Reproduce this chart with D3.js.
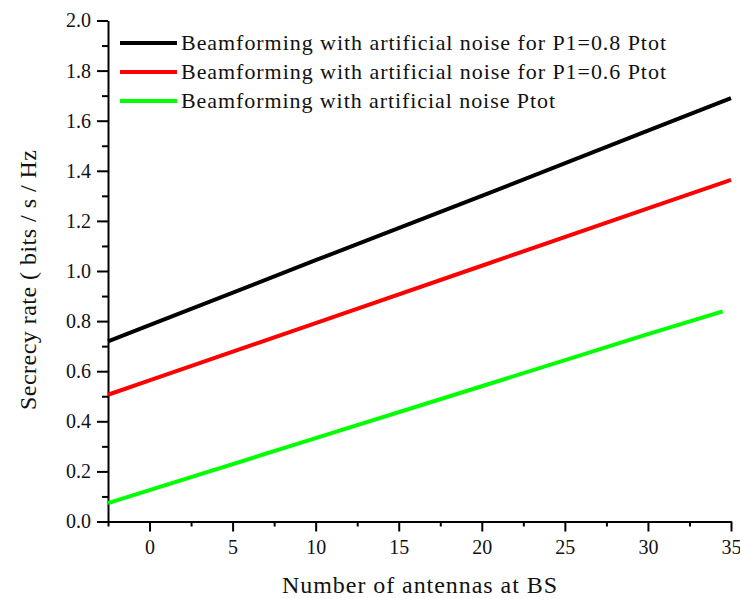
<!DOCTYPE html>
<html>
<head>
<meta charset="utf-8">
<script src="https://cdn.jsdelivr.net/npm/d3@7"></script>
<style>
  body { margin: 0; background: #fff; }
  text { font-family: "Liberation Serif", "Times New Roman", serif; fill: #111; }
</style>
</head>
<body>
<svg id="chart"></svg>
<script>
// values
const antennas = [-2.5, 0, 10, 20, 30, 35];
const greenX = [-2.5, 0, 10, 20, 30, 34.5];
const p08 = [0.719, 0.784, 1.043, 1.30, 1.56, 1.69];
const p06 = [0.506, 0.563, 0.792, 1.021, 1.250, 1.364];
const ptot = [0.073, 0.125, 0.333, 0.540, 0.748, 0.839];
const seriesNames = [
  'Beamforming with artificial noise for P1=0.8 Ptot',
  'Beamforming with artificial noise for P1=0.6 Ptot',
  'Beamforming with artificial noise Ptot'
];
const legendWidths = [485, 485, 374];
const seriesColors = ['#000000', '#ff0000', '#00ff00'];
const xTicks = [0, 5, 10, 15, 20, 25, 30, 35];
const yTicks = [0, 0.2, 0.4, 0.6, 0.8, 1.0, 1.2, 1.4, 1.6, 1.8, 2.0];

const svgWidth = 740, svgHeight = 598;
const margin = { top: 20.5, left: 108, right: 9, bottom: 76.5 };
const width = svgWidth - margin.left - margin.right;
const height = svgHeight - margin.top - margin.bottom;

const svg = d3.select('#chart')
  .attr('width', svgWidth)
  .attr('height', svgHeight);
const g = svg.append('g')
  .attr('transform', 'translate(' + margin.left + ',' + margin.top + ')');

const x = d3.scaleLinear().domain([-2.5, 35]).range([0, width]);
const y = d3.scaleLinear().domain([0, 2]).range([height, 0]);

// minor ticks first (half steps)
const xMinor = d3.range(-2.5, 35.01, 2.5).filter(v => v % 5 !== 0);
const yMinor = d3.range(0.1, 2, 0.2);
g.append('g')
  .attr('transform', 'translate(0,' + height + ')')
  .call(d3.axisBottom(x).tickValues(xMinor).tickSize(5).tickFormat(''))
  .call(a => a.select('.domain').remove())
  .selectAll('line').attr('stroke', '#000').attr('stroke-width', 2);
g.append('g')
  .call(d3.axisLeft(y).tickValues(yMinor).tickSize(6).tickFormat(''))
  .call(a => a.select('.domain').remove())
  .selectAll('line').attr('stroke', '#000').attr('stroke-width', 2);

// major axes
const gX = g.append('g')
  .attr('transform', 'translate(0,' + height + ')')
  .call(d3.axisBottom(x).tickValues(xTicks).tickSize(10).tickSizeOuter(0).tickPadding(8).tickFormat(d3.format('d')));
const gY = g.append('g')
  .call(d3.axisLeft(y).tickValues(yTicks).tickSize(11).tickSizeOuter(0).tickPadding(6).tickFormat(d3.format('.1f')));
[gX, gY].forEach(a => {
  a.select('.domain').attr('stroke', '#000').attr('stroke-width', 2);
  a.selectAll('.tick line').attr('stroke', '#000').attr('stroke-width', 2);
  a.selectAll('.tick text')
    .attr('font-family', '"Liberation Serif", serif')
    .attr('font-size', 20)
    .attr('fill', '#222');
});

// lines
const line = d3.line().x(d => x(d[0])).y(d => y(d[1]));
const series = [
  d3.zip(antennas, p08),
  d3.zip(antennas, p06),
  d3.zip(greenX, ptot)
];
g.selectAll('path.series')
  .data(series)
  .enter()
  .append('path')
  .attr('class', 'series')
  .attr('d', line)
  .attr('fill', 'none')
  .attr('stroke', (d, i) => seriesColors[i])
  .attr('stroke-width', 4);

// legend
const legend = svg.append('g').attr('transform', 'translate(120,43)');
const items = legend.selectAll('g')
  .data(seriesNames)
  .enter()
  .append('g')
  .attr('transform', (d, i) => 'translate(0,' + i * 29 + ')');
items.append('line')
  .attr('x1', 0).attr('x2', 57)
  .attr('stroke', (d, i) => seriesColors[i])
  .attr('stroke-width', 4);
items.append('text')
  .attr('x', 61)
  .attr('y', 7)
  .attr('font-size', 22)
  .attr('textLength', (d, i) => legendWidths[i])
  .attr('lengthAdjust', 'spacing')
  .text(d => d);

// axis titles
svg.append('text')
  .attr('x', 282)
  .attr('y', 593)
  .attr('font-size', 24)
  .attr('textLength', 275)
  .attr('lengthAdjust', 'spacing')
  .text('Number of antennas at BS');
svg.append('text')
  .attr('transform', 'translate(36,410) rotate(-90)')
  .attr('font-size', 24)
  .attr('textLength', 260)
  .attr('lengthAdjust', 'spacing')
  .text('Secrecy rate ( bits / s / Hz');
</script>
</body>
</html>
